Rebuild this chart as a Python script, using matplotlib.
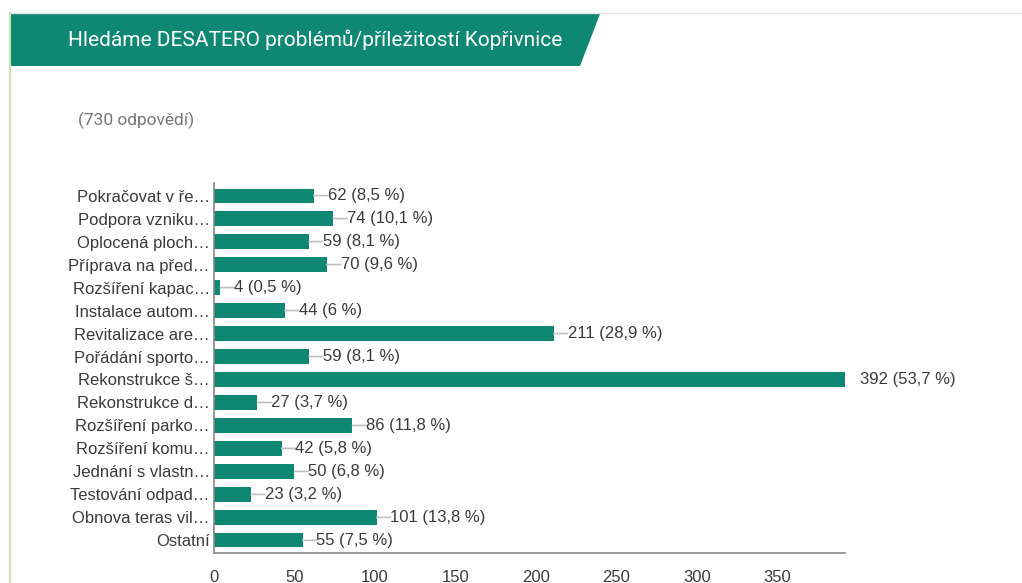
import matplotlib.pyplot as plt
from matplotlib.patches import Polygon
from matplotlib.lines import Line2D

plt.rcParams['font.family'] = ['Liberation Sans', 'DejaVu Sans']

title = 'Hledáme DESATERO problémů/příležitostí Kopřivnice'
responses = '(730 odpovědí)'

categories = [
    'Pokračovat v ře…', 'Podpora vzniku…', 'Oplocená ploch…', 'Příprava na před…',
    'Rozšíření kapac…', 'Instalace autom…', 'Revitalizace are…', 'Pořádání sporto…',
    'Rekonstrukce š…', 'Rekonstrukce d…', 'Rozšíření parko…', 'Rozšíření komu…',
    'Jednání s vlastn…', 'Testování odpad…', 'Obnova teras vil…', 'Ostatní',
]
counts = [62, 74, 59, 70, 4, 44, 211, 59, 392, 27, 86, 42, 50, 23, 101, 55]
percents = ['8,5', '10,1', '8,1', '9,6', '0,5', '6', '28,9', '8,1',
            '53,7', '3,7', '11,8', '5,8', '6,8', '3,2', '13,8', '7,5']
xticks = [0, 50, 100, 150, 200, 250, 300, 350]

green = '#0e8872'
text_gray = '#3a3a3a'
fs = 12

W, H = 1022, 583
fig = plt.figure(figsize=(W / 100, H / 100), dpi=100)

# frame lines and header banner (figure pixel coords)
def fx(px):
    return px / W

def fy(py):
    return 1 - py / H

fig.add_artist(Line2D([fx(10), fx(10)], [fy(13), 0], color='#cfe0b4', lw=1.5))
fig.add_artist(Line2D([fx(10), 1], [fy(13), fy(13)], color='#e2e2e2', lw=1))
fig.add_artist(Polygon([(fx(11), fy(14)), (fx(600), fy(14)), (fx(580), fy(66)), (fx(11), fy(66))],
                       closed=True, color=green, lw=0))
fig.text(fx(68), fy(40), title, color='white', fontsize=15, family=['Roboto', 'DejaVu Sans'],
         va='center', ha='left')
fig.text(fx(78), fy(120), responses, color='#777777', fontsize=12.5, family=['Roboto', 'DejaVu Sans'],
         va='center', ha='left')

ax = fig.add_axes([fx(214), fy(553), fx(845) - fx(214), fy(183) - fy(553)])
ypos = list(range(len(counts)))
ax.barh(ypos, counts, height=0.62, color=green)
xmax = max(counts)
ax.set_xlim(0, xmax)
ax.set_ylim(len(counts) - 0.45, -0.55)

for y, v, p in zip(ypos, counts, percents):
    if v < xmax:
        ax.annotate('', xy=(v, y), xytext=(10, 0), textcoords='offset points',
                    arrowprops=dict(arrowstyle='-', color='#c0c0c0', lw=1.2,
                                    shrinkA=0, shrinkB=0))
        off = 10
    else:
        off = 11
    ax.annotate(f'{v} ({p} %)', xy=(v, y), xytext=(off, 0), textcoords='offset points',
                va='center', ha='left', fontsize=fs, color=text_gray, annotation_clip=False)

ax.set_yticks(ypos)
ax.set_yticklabels(categories, fontsize=fs, color=text_gray)
ax.set_xticks(xticks)
ax.set_xticklabels([str(t) for t in xticks], fontsize=fs, color=text_gray)
ax.tick_params(axis='y', length=0, pad=3)
ax.tick_params(axis='x', length=0, pad=12)
for s in ['top', 'right']:
    ax.spines[s].set_visible(False)
for s in ['left', 'bottom']:
    ax.spines[s].set_color('#888888')
    ax.spines[s].set_linewidth(1.2)

fig.savefig('out.png', dpi=100)
